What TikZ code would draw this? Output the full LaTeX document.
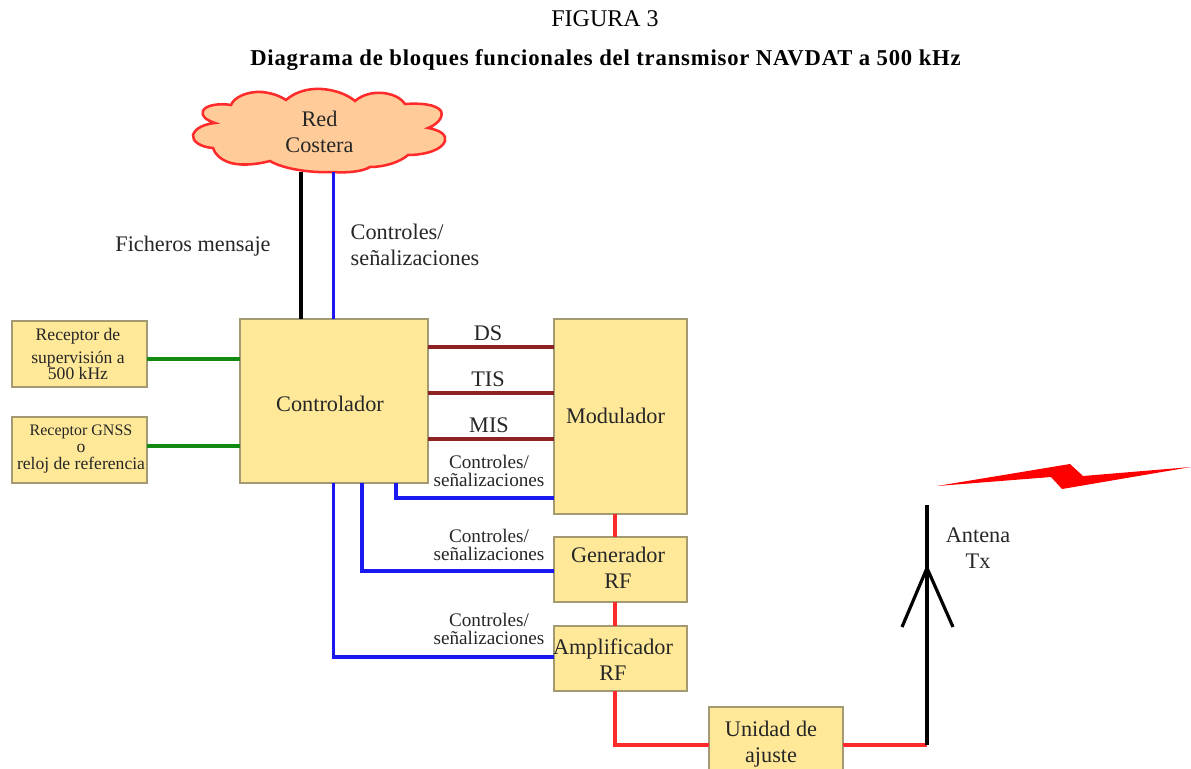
\documentclass[tikz,border=0pt]{standalone}
\usepackage{fontspec}
\setmainfont{Liberation Serif}
\newfontfamily\titlefont[LetterSpace=3.6]{Liberation Serif}
\definecolor{boxfill}{HTML}{FFE999}
\definecolor{boxedge}{HTML}{A39A72}
\definecolor{cloudfill}{HTML}{FFCC99}
\definecolor{txt}{HTML}{262626}
\definecolor{bluel}{HTML}{1A1AF0}
\definecolor{greenl}{HTML}{128A12}
\definecolor{brownl}{HTML}{8E2222}
\definecolor{redl}{HTML}{FF2A2A}
\tikzset{
 x=0.75pt,y=-0.75pt,
 block/.style={draw=boxedge,fill=boxfill,line width=1.5pt,anchor=north west,inner sep=0pt,outer sep=0pt,align=center,text=txt},
 big/.style={font=\fontsize{16.7pt}{19.5pt}\selectfont},
 small/.style={font=\fontsize{13.2pt}{13pt}\selectfont},
 mid/.style={font=\fontsize{14.4pt}{14pt}\selectfont},
 lbl/.style={text=txt,align=center,inner sep=0pt},
 blk/.style={black,line width=2.3pt},
 blu/.style={bluel,line width=2.3pt},
 grn/.style={greenl,line width=2.4pt},
 brn/.style={brownl,line width=2.4pt},
 rd/.style={redl,line width=2.4pt},
}
\begin{document}
\begin{tikzpicture}
\useasboundingbox (0,0) rectangle (1191,768);
\clip (0,0) rectangle (1191,768);
% titles
\node[lbl,text=black,font=\fontsize{18pt}{20pt}\selectfont] (fig) at (605,19) {FIGURA 3};
\node[lbl,text=black,font=\fontsize{17pt}{19pt}\titlefont\bfseries] (title) at (605.5,60) {Diagrama de bloques funcionales del transmisor NAVDAT a 500 kHz};
% cloud
\draw[redl,fill=cloudfill,line width=1.9pt]
 (215,123) .. controls (206,120) and (201,116) .. (203,111)
 .. controls (205,105) and (220,103) .. (231,105)
 .. controls (234,97) and (248,91) .. (262,92)
 .. controls (272,93) and (280,96) .. (286,100)
 .. controls (295,92) and (308,88) .. (322,89)
 .. controls (336,90) and (348,95) .. (355,101)
 .. controls (362,95) and (372,92) .. (383,93)
 .. controls (393,94) and (401,98) .. (405,104)
 .. controls (420,103) and (436,104) .. (441,111)
 .. controls (444,118) and (436,125) .. (428,128)
 .. controls (440,130) and (447,135) .. (445,141)
 .. controls (442,150) and (425,155) .. (408,155)
 .. controls (400,162) and (385,167) .. (370,167)
 .. controls (362,172) and (345,173) .. (333,172)
 .. controls (315,173) and (285,170) .. (270,161)
 .. controls (255,165) and (238,166) .. (228,162)
 .. controls (220,159) and (215,154) .. (213,148)
 .. controls (200,147) and (192,141) .. (193,135)
 .. controls (195,128) and (205,124) .. (215,123) -- cycle;
\node[lbl,big] (cloud) at (319.5,132) {Red\\Costera};
% blocks
\node[block,minimum width=135*0.75pt,minimum height=66*0.75pt] (rsup) at (12,321) {};
\node[lbl,small] (rsuptxt) at (78,354) {Receptor de\\[4pt]supervisión a\\[-0.5pt]500 kHz};
\node[block,minimum width=135*0.75pt,minimum height=66*0.75pt] (rgnss) at (12,417) {};
\node[lbl,small] (rgnsstxt) at (81,449) {{\fontsize{12pt}{13pt}\selectfont Receptor GNSS}\\o\\reloj de referencia};
\node[block,minimum width=188*0.75pt,minimum height=164*0.75pt] (ctrl) at (240,319) {};
\node[lbl,big] (ctrltxt) at (330,404) {Controlador};
\node[block,minimum width=133*0.75pt,minimum height=195*0.75pt] (mod) at (554,319) {};
\node[lbl,big] (modtxt) at (615.5,416) {Modulador};
\node[block,minimum width=133*0.75pt,minimum height=65*0.75pt] (gen) at (554,537) {};
\node[lbl,big] (gentxt) at (618,568) {Generador\\RF};
\node[block,minimum width=133*0.75pt,minimum height=65*0.75pt] (amp) at (554,626) {};
\node[lbl,big] (amptxt) at (613,660) {Amplificador\\RF};
\node[block,minimum width=134*0.75pt,minimum height=75*0.75pt] (uni) at (709,707) {};
\node[lbl,big] (unitxt) at (771,744) {Unidad de\\ajuste};
% connection points
\coordinate (cb) at (301,172);
\coordinate (cc) at (333.5,172);
\coordinate (ant) at (927,745);
\coordinate (anttop) at (927,505);
\coordinate (antj) at (927,568);
\coordinate (antl) at (902,627);
\coordinate (antr) at (953,627);
\coordinate (cs1) at (396,483);
\coordinate (cs2) at (362,483);
\coordinate (cs3) at (333.5,483);
% connectors
\draw[blk] (cb) -- (cb |- ctrl.north);
\draw[blu] (cc) -- (cc |- ctrl.north);
\draw[grn] (rsup.east |- 0,359) -- (ctrl.west |- 0,359);
\draw[grn] (rgnss.east |- 0,446) -- (ctrl.west |- 0,446);
\draw[brn] (ctrl.east |- 0,347) -- (mod.west |- 0,347);
\draw[brn] (ctrl.east |- 0,393) -- (mod.west |- 0,393);
\draw[brn] (ctrl.east |- 0,439) -- (mod.west |- 0,439);
\draw[blu] (cs1) -- (396,498) -- (mod.west |- 0,498);
\draw[blu] (cs2) -- (362,571) -- (gen.west |- 0,571);
\draw[blu] (cs3) -- (333.5,657) -- (amp.west |- 0,657);
\draw[rd] (mod.south -| 615,0) -- (gen.north -| 615,0);
\draw[rd] (gen.south -| 615,0) -- (amp.north -| 615,0);
\draw[rd] (amp.south -| 615,0) -- (615,745) -- (uni.west |- 0,745);
\draw[rd] (uni.east |- 0,745) -- (ant);
\draw[black,line width=2.4pt] (ant) -- (anttop);
\draw[black,line width=2.4pt] (antl) -- (antj) -- (antr);
% lightning
\fill[red] (937,486) -- (1070,464) -- (1083,476) -- (1191,467) -- (1062,489) -- (1051,477) -- cycle;
% labels
\node[lbl,big] (l1) at (193,246) {Ficheros mensaje};
\node[lbl,big,align=left] (l2) at (415,245) {Controles/\\señalizaciones};
\node[lbl,big] (ds) at (488,333) {DS};
\node[lbl,big] (tis) at (488,379) {TIS};
\node[lbl,big] (mis) at (489,425) {MIS};
\node[lbl,mid] (c1) at (489,471) {Controles/\\señalizaciones};
\node[lbl,mid] (c2) at (489,545) {Controles/\\señalizaciones};
\node[lbl,mid] (c3) at (489,629) {Controles/\\señalizaciones};
\node[lbl,big] (at) at (978,548) {Antena\\Tx};
\end{tikzpicture}
\end{document}
